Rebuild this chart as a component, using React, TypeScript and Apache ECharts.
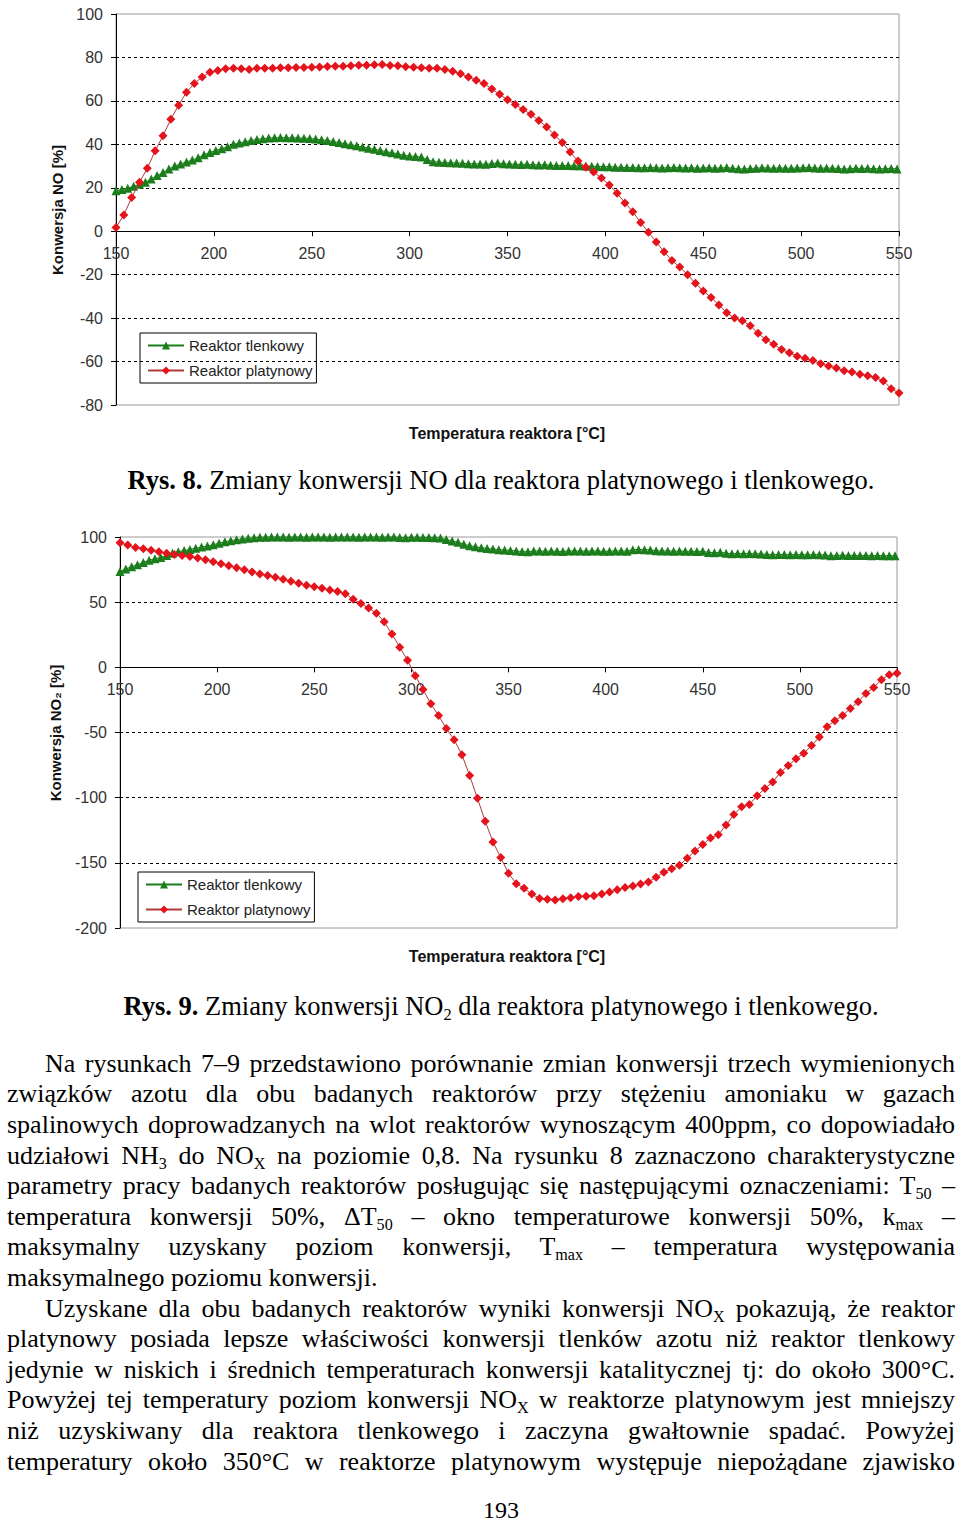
import React, { useEffect, useRef } from "react";
import * as echarts from "echarts";

// Temperatures of the measured points [°C]
const TEMP_PT = [150,154,158,162,166,170,174,178,182,186,190,194,198,202,206,210,214,218,222,226,230,234,238,242,246,250,254,258,262,266,270,274,278,282,286,290,294,298,302,306,310,314,318,322,326,330,334,338,342,346,350,354,358,362,366,370,374,378,382,386,390,394,398,402,406,410,414,418,422,426,430,434,438,442,446,450,454,458,462,466,470,474,478,482,486,490,494,498,502,506,510,514,518,522,526,530,534,538,542,546,550];
const TEMP_OX = [150,153,156,159,162,165,168,171,174,177,180,183,186,189,192,195,198,201,204,207,210,213,216,219,222,225,228,231,234,237,240,243,246,249,252,255,258,261,264,267,270,273,276,279,282,285,288,291,294,297,300,303,306,309,312,315,318,321,324,327,330,333,336,339,342,345,348,351,354,357,360,363,366,369,372,375,378,381,384,387,390,393,396,399,402,405,408,411,414,417,420,423,426,429,432,435,438,441,444,447,450,453,456,459,462,465,468,471,474,477,480,483,486,489,492,495,498,501,504,507,510,513,516,519,522,525,528,531,534,537,540,543,546,549];

// Rys. 8 – konwersja NO [%]
const NO_OX = [18.6,19.2,19.8,20.7,21.6,22.5,24,25.6,27,28.6,
30,31,31.9,32.8,33.8,35.2,36.2,37.2,38,38.9,
40,40.6,41.2,41.8,42.2,42.6,42.9,43,43.1,43,
43,42.9,42.8,42.7,42.4,42.1,41.8,41.3,40.8,40.3,
39.8,39.3,38.8,38.2,37.7,37.2,36.6,36.1,35.6,35,
34.6,34.4,34.2,33,32,31.8,31.6,31.5,31.4,31.3,
31.1,31,31,30.8,31.2,31.4,31.1,30.9,30.8,30.7,
30.8,30.6,30.5,30.6,30.4,30.3,30.2,30.2,30.1,30.1,
30,29.9,29.8,29.7,29.7,29.5,29.4,29.3,29.3,29.2,
29.2,29.3,29.2,29.1,29.2,29.3,29.2,29.1,29.2,29,
29.1,29.2,29,29.1,29.3,29,28.8,28.6,28.9,29,
29.2,29.1,29,29.1,29,29,29.1,29.2,29.3,29.1,
29,29.1,29,28.9,28.6,28.8,29,28.9,29,28.8,
28.7,28.8,28.9,28.7];
const NO_PT = [1.7,7.5,15.5,22.5,29,37,44,51.5,58,64,
68,71,73.2,74,74.8,75,74.8,74.5,75,75,
75,75.2,75.3,75.4,75.4,75.5,75.6,75.8,76,76,
76.2,76.4,76.4,76.6,76.8,76.3,76.2,75.7,75.5,75.3,
75,75,74.5,73.6,72.5,71,69.5,68,65.5,63,
60.5,58.3,56,53.8,51,48,44.3,40.8,36.5,32.3,
29.5,27.3,24.5,21.3,17.5,13,9,4,-0.5,-5,
-9.5,-13.5,-16.5,-20,-24,-27.5,-30.5,-34,-37.5,-40,
-41.2,-43.5,-47,-50,-52,-54.5,-56,-57.5,-58.5,-59.5,
-61,-62,-63,-64.2,-64.8,-65.8,-66.5,-67.3,-69,-72.5,
-74.5];

// Rys. 9 – konwersja NO2 [%]
const NO2_OX = [73.5,75.5,77.2,78.8,80.5,82.2,83.3,84.3,85.8,87.5,
88.7,89.6,90.5,91.4,92.3,93.1,94,95.3,96.3,97.2,
97.9,98.5,99,99.5,99.8,99.9,100,100,100,99.9,
100,100,99.9,100,100,100,99.9,100,100,100,
100,99.9,100,100,100,99.9,100,100,99.6,99.5,
99.8,99.8,99.6,99.7,99.5,99.2,98,97,96,94.5,
93.3,92.5,91.8,91.2,90.8,90.3,90,89.7,89.3,88.8,
88.6,89.3,89.2,89.1,89.2,89,88.8,89.3,89.2,89.2,
89.1,89.3,89.2,89,89.1,89.3,89.2,89.1,90.3,90.5,
90.3,90.1,89.4,89.2,89.3,89.1,89.2,89.1,89,88.9,
89,88.2,87.9,88.3,87.6,87.1,87.3,87.2,87.3,87.1,
87,86.6,86.4,86.5,86.6,86.4,86.5,86.4,86.3,86.5,
86.4,86.2,85.6,85.9,86,85.9,85.8,85.9,85.8,85.7,
85.8,85.6,85.7,85.6];
const NO2_PT = [95.5,93.8,92,91,89.8,88.6,87.6,86.6,85.8,85,
83.8,82.5,81,79.4,78,76.4,74.8,73.2,71.6,70.4,
69.2,67.6,66,64.6,63,61.8,60.6,59.4,58.2,56.5,
52.3,49,45.5,41.5,35,25.5,15.5,5.5,-6.5,-17,
-28,-37,-47,-55.5,-67,-83,-100.5,-118,-134,-146,
-158,-166,-169.5,-174,-177.4,-178,-178.6,-177.5,-176.8,-175.8,
-175.6,-175.3,-174,-172.3,-170.6,-169,-167.7,-166.2,-164.7,-161,
-157.3,-154.5,-151.8,-146.5,-141,-136,-131,-128.5,-121,-113,
-107,-105.3,-98.5,-93,-88,-80.7,-75.4,-70.2,-66,-60,
-53.5,-45.5,-41,-37,-31.5,-26.5,-20,-15.5,-9.5,-5.6,
-4.5];

const SERIES_NAMES = ["Reaktor tlenkowy", "Reaktor platynowy"];
const X_AXIS = { min: 150, max: 550, interval: 50 };
const Y1 = { min: -80, max: 100, interval: 20 };
const Y2 = { min: -200, max: 100, interval: 50 };

const GREEN = "#1b7d1b";
const RED = "#e3141c";
const SANS = '"Liberation Sans", Arial, "DejaVu Sans", sans-serif';
const SERIF = '"Liberation Serif", "Times New Roman", serif';

const G1 = { left: 116, top: 14, width: 783, height: 391 };
const G2 = { left: 120, top: 537, width: 777, height: 391 };

const pairs = (xs: number[], ys: number[]) => xs.map((x, i) => [x, ys[i]]);

// x axis crosses the y axis at value 0
function xAxis(gridIndex: number, g: { height: number }, r: { min: number; max: number }) {
  const zeroOffset = -(g.height * (0 - r.min)) / (r.max - r.min);
  return {
    type: "value",
    gridIndex,
    position: "bottom",
    offset: zeroOffset,
    min: X_AXIS.min,
    max: X_AXIS.max,
    interval: X_AXIS.interval,
    axisLine: { show: true, onZero: false, lineStyle: { color: "#000", width: 1 } },
    axisTick: { show: true, length: 5, lineStyle: { color: "#000" } },
    axisLabel: { margin: 14, fontSize: 16, color: "#333", fontFamily: SANS },
    splitLine: { show: false },
  };
}

function yAxis(gridIndex: number, r: { min: number; max: number; interval: number }, colors: string[]) {
  return {
    type: "value",
    gridIndex,
    min: r.min,
    max: r.max,
    interval: r.interval,
    axisLine: { show: true, onZero: false, lineStyle: { color: "#000", width: 1 } },
    axisTick: { show: true, length: 5, lineStyle: { color: "#000" } },
    axisLabel: { margin: 13, fontSize: 16, color: "#333", fontFamily: SANS },
    splitLine: { show: true, lineStyle: { color: colors, width: 1, type: [3, 3] } },
  };
}

function series(idx: number, name: string, data: number[][], isRed: boolean) {
  const c = isRed ? RED : GREEN;
  return {
    name,
    type: "line",
    xAxisIndex: idx,
    yAxisIndex: idx,
    data,
    symbol: isRed ? "diamond" : "triangle",
    symbolSize: 9,
    showAllSymbol: true,
    clip: false,
    lineStyle: { color: isRed ? "#b03a3a" : GREEN, width: 1 },
    itemStyle: { color: c },
    z: isRed ? 3 : 2,
  };
}

function legend(left: number, top: number) {
  return {
    left,
    top,
    orient: "vertical",
    data: SERIES_NAMES,
    borderColor: "#000",
    borderWidth: 1,
    padding: [5, 4, 5, 7],
    itemGap: 10,
    itemWidth: 36,
    itemHeight: 10,
    selectedMode: false,
    textStyle: { fontSize: 15, color: "#222", fontFamily: SANS },
  };
}

function label(text: string, x: number, y: number, size: number, rotate = false) {
  return {
    type: "text",
    x,
    y,
    rotation: rotate ? Math.PI / 2 : 0,
    style: {
      text,
      font: `bold ${size}px ${SANS}`,
      fill: "#111",
      align: "center",
      verticalAlign: "middle",
      textAlign: "center",
      textVerticalAlign: "middle",
    },
  };
}

function Charts() {
  const ref = useRef<HTMLDivElement>(null);
  useEffect(() => {
    if (!ref.current) return;
    const chart = echarts.init(ref.current, null, { renderer: "svg" });
    const T = "transparent";
    const K = "#000";
    chart.setOption({
      animation: false,
      backgroundColor: "transparent",
      grid: [
        { ...G1, show: true, borderColor: "#9a9a9a", borderWidth: 1, containLabel: false },
        { ...G2, show: true, borderColor: "#9a9a9a", borderWidth: 1, containLabel: false },
      ],
      xAxis: [xAxis(0, G1, Y1), xAxis(1, G2, Y2)],
      yAxis: [
        yAxis(0, Y1, [T, K, K, K, T, K, K, K, K, T]),
        yAxis(1, Y2, [T, K, K, K, T, K, T]),
      ],
      legend: [legend(140, 333), legend(138, 872)],
      series: [
        series(0, SERIES_NAMES[0], pairs(TEMP_OX, NO_OX), false),
        series(0, SERIES_NAMES[1], pairs(TEMP_PT, NO_PT), true),
        series(1, SERIES_NAMES[0], pairs(TEMP_OX, NO2_OX), false),
        series(1, SERIES_NAMES[1], pairs(TEMP_PT, NO2_PT), true),
      ],
      graphic: [
        label("Temperatura reaktora [°C]", 507, 433, 16),
        label("Konwersja NO [%]", 57, 210, 15, true),
        label("Temperatura reaktora [°C]", 507, 956, 16),
        label("Konwersja NO₂ [%]", 55, 733, 15, true),
      ],
    });
    return () => chart.dispose();
  }, []);
  return <div ref={ref} style={{ position: "absolute", left: 0, top: 0, width: 960, height: 1000 }} />;
}

const Sub = ({ c }: { c: string }) => (
  <sub style={{ fontSize: "0.62em", lineHeight: 0, verticalAlign: "-0.3em" }}>{c}</sub>
);

const LH = 30.6;
const FIRST = 1064;

function Line({ i, indent, last, children }: { i: number; indent?: boolean; last?: boolean; children: React.ReactNode }) {
  const ind = indent ? 38 : 0;
  return (
    <div
      style={{
        position: "absolute",
        left: 7 + ind,
        width: 948 - ind,
        top: FIRST + i * LH - LH / 2,
        height: LH,
        lineHeight: `${LH}px`,
        textAlign: last ? "left" : "justify",
        textAlignLast: last ? "left" : "justify",
      } as React.CSSProperties}
    >
      {children}
    </div>
  );
}

export default function App() {
  return (
    <div
      style={{
        position: "absolute",
        left: 0,
        top: 0,
        width: 960,
        height: 1527,
        overflow: "hidden",
        background: "#fff",
        fontFamily: SERIF,
        fontSize: 26,
        color: "#000",
      }}
    >
      <Charts />
      <div style={{ position: "absolute", left: 42, width: 918, top: 464, height: 32, lineHeight: "32px", textAlign: "center", fontSize: 26.5 }}>
        <b>Rys. 8.</b> Zmiany konwersji NO dla reaktora platynowego i tlenkowego.
      </div>
      <div style={{ position: "absolute", left: 42, width: 918, top: 990, height: 32, lineHeight: "32px", textAlign: "center", fontSize: 26.5 }}>
        <b>Rys. 9.</b> Zmiany konwersji NO<Sub c="2" /> dla reaktora platynowego i tlenkowego.
      </div>
      <Line i={0} indent>Na rysunkach 7–9 przedstawiono porównanie zmian konwersji trzech wymienionych</Line>
      <Line i={1}>związków azotu dla obu badanych reaktorów przy stężeniu amoniaku w gazach</Line>
      <Line i={2}>spalinowych doprowadzanych na wlot reaktorów wynoszącym 400ppm, co dopowiadało</Line>
      <Line i={3}>udziałowi NH<Sub c="3" /> do NO<Sub c="X" /> na poziomie 0,8. Na rysunku 8 zaznaczono charakterystyczne</Line>
      <Line i={4}>parametry pracy badanych reaktorów posługując się następującymi oznaczeniami: T<Sub c="50" /> –</Line>
      <Line i={5}>temperatura konwersji 50%, ΔT<Sub c="50" /> – okno temperaturowe konwersji 50%, k<Sub c="max" /> –</Line>
      <Line i={6}>maksymalny uzyskany poziom konwersji, T<Sub c="max" /> – temperatura występowania</Line>
      <Line i={7} last>maksymalnego poziomu konwersji.</Line>
      <Line i={8} indent>Uzyskane dla obu badanych reaktorów wyniki konwersji NO<Sub c="X" /> pokazują, że reaktor</Line>
      <Line i={9}>platynowy posiada lepsze właściwości konwersji tlenków azotu niż reaktor tlenkowy</Line>
      <Line i={10}>jedynie w niskich i średnich temperaturach konwersji katalitycznej tj: do około 300°C.</Line>
      <Line i={11}>Powyżej tej temperatury poziom konwersji NO<Sub c="X" /> w reaktorze platynowym jest mniejszy</Line>
      <Line i={12}>niż uzyskiwany dla reaktora tlenkowego i zaczyna gwałtownie spadać. Powyżej</Line>
      <Line i={13}>temperatury około 350°C w reaktorze platynowym występuje niepożądane zjawisko</Line>
      <div style={{ position: "absolute", left: 42, width: 918, top: 1497, height: 26, lineHeight: "26px", textAlign: "center", fontSize: 24 }}>
        193
      </div>
    </div>
  );
}
